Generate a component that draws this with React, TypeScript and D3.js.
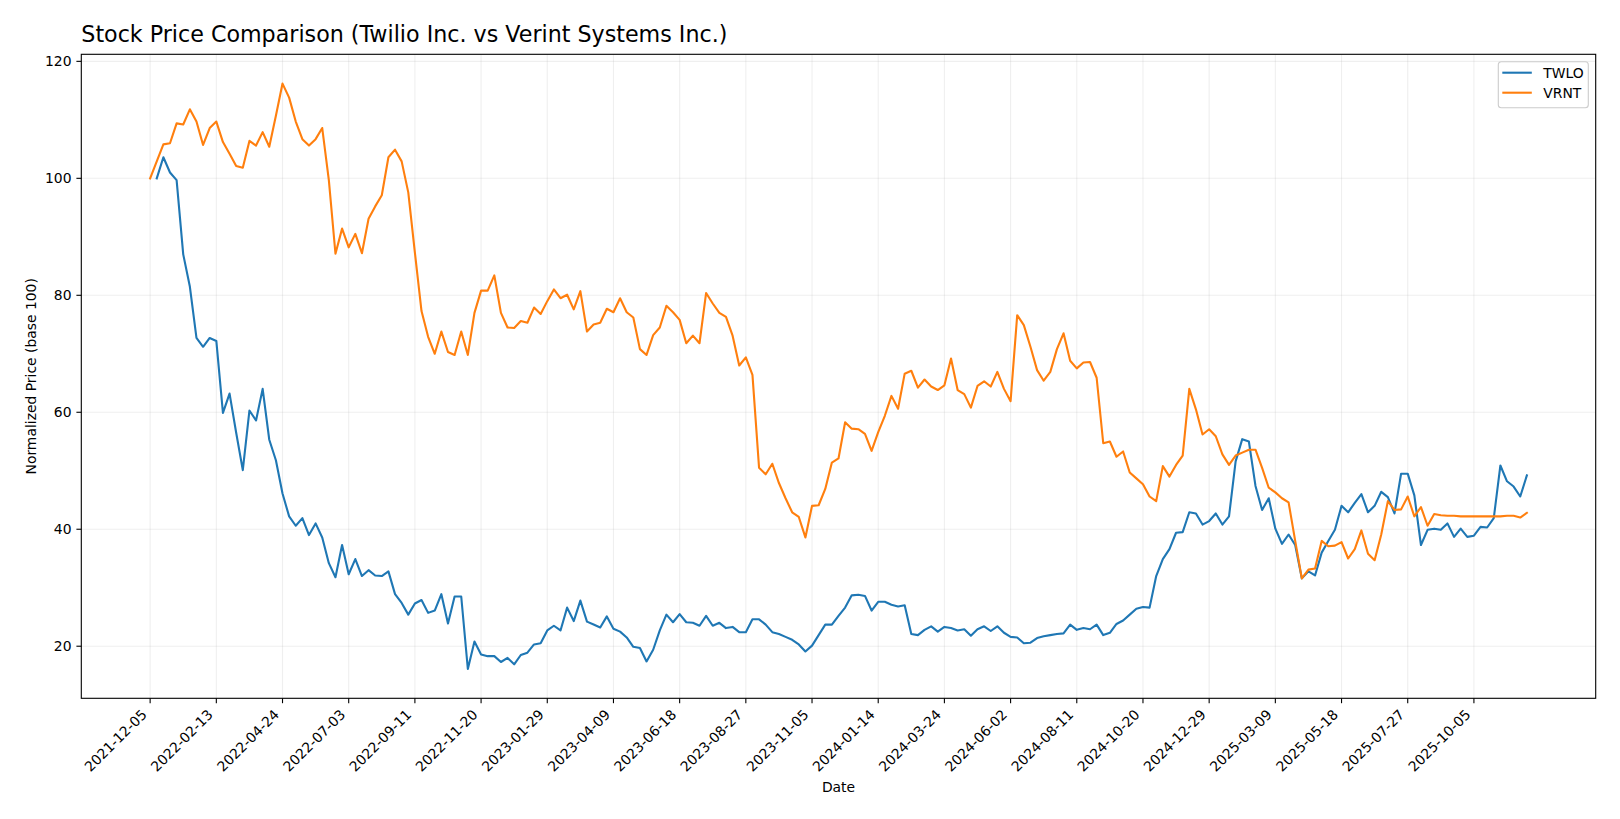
import React, { useRef, useEffect } from 'react';
import * as d3 from 'd3';

const WIDTH = 1620;
const HEIGHT = 819;

// weekly closes, first week is 2021-12-05
const START_DATE = '2021-12-05';

const tickDates = [
  '2021-12-05', '2022-02-13', '2022-04-24', '2022-07-03', '2022-09-11', '2022-11-20',
  '2023-01-29', '2023-04-09', '2023-06-18', '2023-08-27', '2023-11-05', '2024-01-14',
  '2024-03-24', '2024-06-02', '2024-08-11', '2024-10-20', '2024-12-29', '2025-03-09',
  '2025-05-18', '2025-07-27', '2025-10-05',
];

const yTicks = [20, 40, 60, 80, 100, 120];

const twlo: (number | null)[] = [
  null, 100, 103.6, 101.0, 99.7, 87.0, 81.5, 72.7, 71.2, 72.7,
  72.2, 59.9, 63.2, 56.5, 50.1, 60.3, 58.6, 64.0, 55.3, 51.8,
  46.1, 42.2, 40.6, 41.9, 39.0, 41.0, 38.6, 34.2, 31.8, 37.3,
  32.3, 34.9, 32.0, 33.0, 32.1, 32.0, 32.8, 28.9, 27.4, 25.4,
  27.3, 27.9, 25.7, 26.1, 28.9, 23.9, 28.5, 28.5, 16.1, 20.8,
  18.6, 18.3, 18.3, 17.3, 18.0, 16.9, 18.5, 18.9, 20.3, 20.5,
  22.7, 23.5, 22.7, 26.6, 24.3, 27.8, 24.2, 23.7, 23.2, 25.1,
  23.0, 22.5, 21.5, 19.9, 19.7, 17.4, 19.4, 22.7, 25.4, 24.1,
  25.5, 24.1, 24.0, 23.5, 25.2, 23.5, 24.0, 23.1, 23.3, 22.4,
  22.4, 24.6, 24.6, 23.7, 22.4, 22.1, 21.6, 21.1, 20.3, 19.1,
  20.1, 21.9, 23.7, 23.7, 25.2, 26.6, 28.7, 28.8, 28.6, 26.1,
  27.6, 27.6, 27.1, 26.8, 27.0, 22.1, 21.9, 22.8, 23.4, 22.5,
  23.3, 23.1, 22.7, 22.9, 21.8, 22.9, 23.4, 22.6, 23.4, 22.3,
  21.6, 21.5, 20.5, 20.6, 21.4, 21.7, 21.9, 22.1, 22.2, 23.7,
  22.8, 23.1, 22.9, 23.7, 21.9, 22.3, 23.8, 24.4, 25.4, 26.4,
  26.7, 26.6, 32.0, 34.9, 36.6, 39.4, 39.5, 42.9, 42.7, 40.8,
  41.4, 42.7, 40.8, 42.2, 51.6, 55.4, 55.0, 47.4, 43.3, 45.3,
  40.1, 37.5, 39.1, 37.3, 31.6, 32.8, 32.1, 36.0, 38.0, 39.9,
  44.0, 42.9, 44.5, 46.0, 42.9, 44.0, 46.4, 45.5, 42.7, 49.5,
  49.5, 45.8, 37.3, 39.9, 40.1, 39.9, 41.0, 38.7, 40.1, 38.7,
  38.9, 40.4, 40.3, 41.9, 50.9, 48.2, 47.3, 45.6, 49.2,
];

const vrnt: (number | null)[] = [
  100, 102.9, 105.8, 106.0, 109.4, 109.2, 111.8, 109.7, 105.7, 108.6,
  109.7, 106.2, 104.2, 102.1, 101.8, 106.4, 105.6, 107.9, 105.4, 110.7,
  116.2, 113.8, 109.7, 106.7, 105.6, 106.7, 108.6, 99.7, 87.1, 91.4,
  88.2, 90.5, 87.2, 93.1, 95.2, 97.1, 103.6, 104.9, 102.9, 97.6,
  87.3, 77.3, 72.9, 70.0, 73.8, 70.3, 69.8, 73.8, 69.8, 77.0,
  80.8, 80.8, 83.4, 77.0, 74.5, 74.4, 75.6, 75.3, 77.9, 76.8,
  79.0, 81.0, 79.5, 80.1, 77.6, 80.7, 73.8, 75.0, 75.3, 77.7,
  77.1, 79.5, 77.1, 76.2, 70.8, 69.8, 73.2, 74.5, 78.2, 77.1,
  75.8, 71.8, 73.1, 71.8, 80.4, 78.6, 77.0, 76.3, 73.1, 68.0,
  69.4, 66.4, 50.5, 49.4, 51.2, 47.9, 45.3, 42.9, 42.1, 38.6,
  44.0, 44.1, 46.9, 51.4, 52.1, 58.3, 57.2, 57.1, 56.3, 53.4,
  56.6, 59.4, 62.8, 60.6, 66.6, 67.1, 64.2, 65.6, 64.4, 63.8,
  64.6, 69.2, 63.8, 63.1, 60.8, 64.5, 65.3, 64.4, 66.9, 64.0,
  61.9, 76.6, 74.9, 71.2, 67.2, 65.4, 66.9, 70.8, 73.5, 68.8,
  67.5, 68.5, 68.6, 65.9, 54.7, 55.0, 52.4, 53.3, 49.7, 48.7,
  47.7, 45.6, 44.8, 50.8, 49.0, 51.0, 52.6, 64.0, 60.5, 56.2,
  57.1, 55.9, 52.8, 51.0, 52.6, 53.1, 53.6, 53.6, 50.5, 47.1,
  46.3, 45.3, 44.6, 38.0, 31.6, 33.1, 33.3, 38.0, 37.1, 37.2,
  37.8, 35.0, 36.6, 39.8, 35.8, 34.7, 39.1, 44.8, 43.3, 43.4,
  45.6, 42.2, 43.8, 40.6, 42.6, 42.4, 42.3, 42.3, 42.2, 42.2,
  42.2, 42.2, 42.2, 42.2, 42.2, 42.3, 42.3, 42.0, 42.8,
];

const seriesNames = ['TWLO', 'VRNT'];
const seriesColors = ['#1f77b4', '#ff7f0e'];

const App: React.FC = () => {
  const svgRef = useRef<SVGSVGElement>(null);

  useEffect(() => {
    if (!svgRef.current) return;
    const svg = d3.select(svgRef.current);
    svg.selectAll('*').remove();

    const font = 'DejaVu Sans, sans-serif';
    const margin = { top: 54.3, right: WIDTH - 1595.7, bottom: HEIGHT - 698.3, left: 81.3 };
    const w = WIDTH - margin.left - margin.right;
    const h = HEIGHT - margin.top - margin.bottom;

    const parse = d3.utcParse('%Y-%m-%d');
    const start = parse(START_DATE) as Date;
    const dates = vrnt.map((_, i) => d3.utcWeek.offset(start, i));
    const all = [twlo, vrnt];

    // matplotlib-style 5% margins
    const [x0, x1] = d3.extent(dates) as [Date, Date];
    const xPad = (x1.getTime() - x0.getTime()) * 0.05;
    const xScale = d3.scaleUtc()
      .domain([new Date(x0.getTime() - xPad), new Date(x1.getTime() + xPad)])
      .range([0, w]);

    const vals = all.flat().filter((v): v is number => v != null);
    const yMin = d3.min(vals) as number;
    const yMax = d3.max(vals) as number;
    const yPad = (yMax - yMin) * 0.05;
    const yScale = d3.scaleLinear().domain([yMin - yPad, yMax + yPad]).range([h, 0]);

    const g = svg.append('g').attr('transform', `translate(${margin.left},${margin.top})`);

    const ticks = tickDates.map(d => parse(d) as Date);

    // grid
    ticks.forEach(t => {
      g.append('line')
        .attr('x1', xScale(t)).attr('x2', xScale(t))
        .attr('y1', 0).attr('y2', h)
        .attr('stroke', '#b0b0b0').attr('stroke-opacity', 0.2).attr('stroke-width', 1.1);
    });
    yTicks.forEach(v => {
      g.append('line')
        .attr('x1', 0).attr('x2', w)
        .attr('y1', yScale(v)).attr('y2', yScale(v))
        .attr('stroke', '#b0b0b0').attr('stroke-opacity', 0.2).attr('stroke-width', 1.1);
    });

    // lines
    const line = d3.line<number | null>()
      .defined(d => d != null)
      .x((_, i) => xScale(dates[i]))
      .y(d => yScale(d as number));

    all.forEach((s, k) => {
      g.append('path')
        .datum(s)
        .attr('d', line)
        .attr('fill', 'none')
        .attr('stroke', seriesColors[k])
        .attr('stroke-width', 2.1)
        .attr('stroke-linejoin', 'round')
        .attr('stroke-linecap', 'square');
    });

    // frame
    g.append('rect')
      .attr('x', 0).attr('y', 0).attr('width', w).attr('height', h)
      .attr('fill', 'none').attr('stroke', '#000').attr('stroke-width', 1.1);

    // x ticks
    ticks.forEach((t, i) => {
      const x = xScale(t);
      g.append('line')
        .attr('x1', x).attr('x2', x).attr('y1', h).attr('y2', h + 4.9)
        .attr('stroke', '#000').attr('stroke-width', 1.1);
      const ax = x - 2.5;
      const ay = h + 17.2;
      g.append('text')
        .attr('x', ax).attr('y', ay)
        .attr('transform', `rotate(-45, ${ax}, ${ay})`)
        .attr('text-anchor', 'end')
        .attr('font-family', font)
        .attr('font-size', '13.9px')
        .attr('fill', '#000')
        .text(tickDates[i]);
    });

    // y ticks
    yTicks.forEach(v => {
      const y = yScale(v);
      g.append('line')
        .attr('x1', -4.9).attr('x2', 0).attr('y1', y).attr('y2', y)
        .attr('stroke', '#000').attr('stroke-width', 1.1);
      g.append('text')
        .attr('x', -9.8).attr('y', y)
        .attr('dy', '0.36em')
        .attr('text-anchor', 'end')
        .attr('font-family', font)
        .attr('font-size', '13.9px')
        .attr('fill', '#000')
        .text(String(v));
    });

    // axis labels
    svg.append('text')
      .attr('x', margin.left + w / 2).attr('y', 792)
      .attr('text-anchor', 'middle')
      .attr('font-family', font).attr('font-size', '13.9px')
      .text('Date');

    svg.append('text')
      .attr('transform', `translate(36, ${margin.top + h / 2}) rotate(-90)`)
      .attr('text-anchor', 'middle')
      .attr('font-family', font).attr('font-size', '13.9px')
      .text('Normalized Price (base 100)');

    // title
    svg.append('text')
      .attr('x', margin.left).attr('y', 41.5)
      .attr('font-family', font).attr('font-size', '22.2px')
      .attr('fill', '#000')
      .text('Stock Price Comparison (Twilio Inc. vs Verint Systems Inc.)');

    // legend
    const legend = svg.append('g').attr('transform', 'translate(1498.3, 61.7)');
    legend.append('rect')
      .attr('width', 90).attr('height', 46).attr('rx', 3)
      .attr('fill', '#fff').attr('fill-opacity', 0.8)
      .attr('stroke', '#cccccc').attr('stroke-width', 1.1);
    seriesNames.forEach((name, i) => {
      const ly = 11 + i * 20;
      legend.append('line')
        .attr('x1', 4).attr('x2', 33.5).attr('y1', ly).attr('y2', ly)
        .attr('stroke', seriesColors[i]).attr('stroke-width', 2.1);
      legend.append('text')
        .attr('x', 45).attr('y', ly).attr('dy', '0.36em')
        .attr('font-family', font).attr('font-size', '13.9px')
        .attr('fill', '#000')
        .text(name);
    });
  }, []);

  return (
    <svg
      ref={svgRef}
      width={WIDTH}
      height={HEIGHT}
      style={{ position: 'absolute', left: 0, top: 0, background: '#fff' }}
    />
  );
};

export default App;
